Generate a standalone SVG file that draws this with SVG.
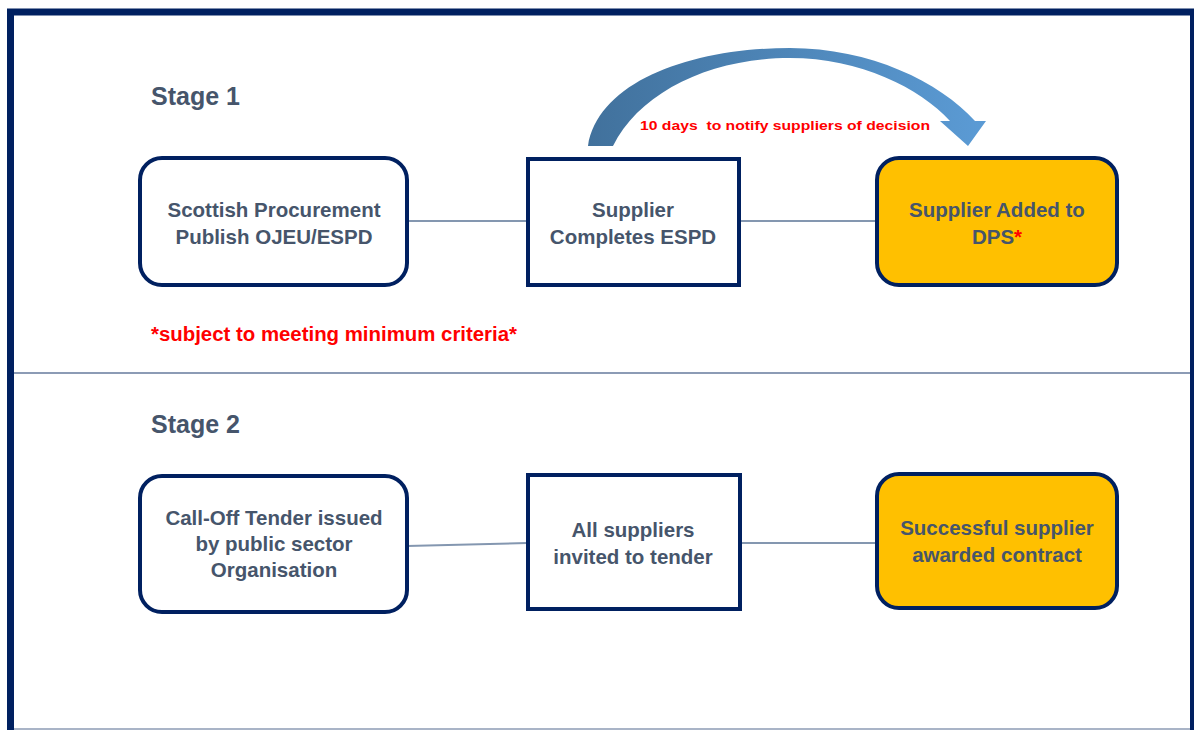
<svg xmlns="http://www.w3.org/2000/svg" width="1194" height="730" viewBox="0 0 1194 730">
<style>
.box{fill:#ffffff;stroke:#002060;stroke-width:4}
.gold{fill:#ffc000;stroke:#002060;stroke-width:4}
.t{font-family:"Liberation Sans",Arial,sans-serif;font-weight:bold;font-size:20.5px;fill:#46556b;text-anchor:middle}
.stage{font-family:"Liberation Sans",Arial,sans-serif;font-weight:bold;font-size:25px;fill:#46556b}
.red{font-family:"Liberation Sans",Arial,sans-serif;font-weight:bold;fill:#ff0000}
.conn{stroke:#8497b0;stroke-width:2;fill:none}
</style>
<defs>
<linearGradient id="arrowGrad" x1="0" y1="0" x2="1" y2="0">
<stop offset="0" stop-color="#41719c"/>
<stop offset="1" stop-color="#5b9bd5"/>
</linearGradient>
</defs>
<rect x="0" y="0" width="1194" height="730" fill="#ffffff"/>
<rect x="10.5" y="12" width="1183" height="730" fill="none" stroke="#002060" stroke-width="7"/>
<line x1="14" y1="729" x2="1190" y2="729" stroke="#8c9bb5" stroke-width="1.5"/>
<line x1="14" y1="373" x2="1190" y2="373" stroke="#8c9bb5" stroke-width="2"/>

<text class="stage" x="151" y="105">Stage 1</text>
<text class="stage" x="151" y="433">Stage 2</text>
<text class="red" x="151" y="341" font-size="20" textLength="366" lengthAdjust="spacingAndGlyphs">*subject to meeting minimum criteria*</text>

<g id="connectors">
<line class="conn" x1="407" y1="221" x2="527" y2="221"/>
<line class="conn" x1="739" y1="221" x2="877" y2="221"/>
<line class="conn" x1="407" y1="546" x2="527" y2="543"/>
<line class="conn" x1="740" y1="543" x2="876" y2="543"/>
<path id="curved-arrow" d="M588,146 C598,82 690,48 790,48 C870,48 940,82 975,121 L986,121 L968,146 L940,121 L950,121 C920,88 860,58 790,58 C710,58 640,92 613,146 Z" fill="url(#arrowGrad)"/>
<text class="red" x="640" y="130" font-size="13.5" textLength="290" lengthAdjust="spacingAndGlyphs" xml:space="preserve">10 days  to notify suppliers of decision</text>
</g>

<g id="node-publish">
<rect class="box" x="140" y="158" width="267" height="127" rx="22"/>
<text class="t" x="274" y="217">Scottish Procurement</text>
<text class="t" x="274" y="244">Publish OJEU/ESPD</text>
</g>
<g id="node-espd">
<rect class="box" x="528" y="159" width="211" height="126"/>
<text class="t" x="633" y="217">Supplier</text>
<text class="t" x="633" y="244">Completes ESPD</text>
</g>
<g id="node-added">
<rect class="gold" x="877" y="158" width="240" height="127" rx="22"/>
<text class="t" x="997" y="217">Supplier Added to</text>
<text class="t" x="997" y="244">DPS<tspan fill="#ff0000">*</tspan></text>
</g>

<g id="node-calloff">
<rect class="box" x="140" y="476" width="267" height="136" rx="22"/>
<text class="t" x="274" y="525">Call-Off Tender issued</text>
<text class="t" x="274" y="551">by public sector</text>
<text class="t" x="274" y="577">Organisation</text>
</g>
<g id="node-invited">
<rect class="box" x="528" y="475" width="212" height="134"/>
<text class="t" x="633" y="537">All suppliers</text>
<text class="t" x="633" y="564">invited to tender</text>
</g>
<g id="node-awarded">
<rect class="gold" x="877" y="474" width="240" height="134" rx="22"/>
<text class="t" x="997" y="535">Successful supplier</text>
<text class="t" x="997" y="562">awarded contract</text>
</g>
</svg>
